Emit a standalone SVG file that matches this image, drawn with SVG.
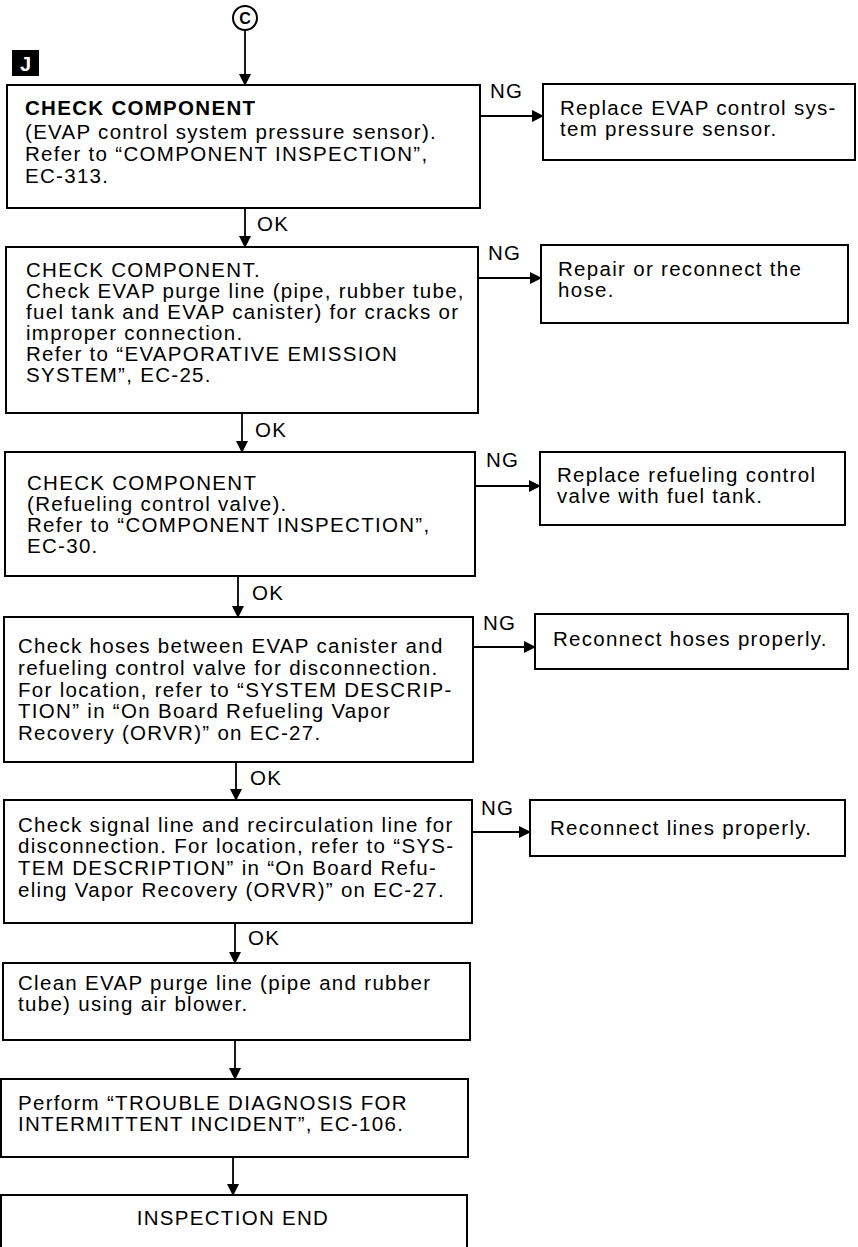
<svg xmlns="http://www.w3.org/2000/svg" width="858" height="1247" viewBox="0 0 858 1247">
<defs>
<style>
.box{fill:#fff;stroke:#000;stroke-width:2}
.t{font-family:"Liberation Sans",Arial,sans-serif;font-size:20.5px;letter-spacing:1.3px;fill:#000}
.b{font-weight:bold}
.c{stroke:#000;stroke-width:1.8;fill:none}
</style>
<marker id="ah" viewBox="0 0 12 12" refX="11" refY="6" markerWidth="12" markerHeight="12" markerUnits="userSpaceOnUse" orient="auto">
<path d="M0,0 L12,6 L0,12 Z" fill="#000"/>
</marker>
</defs>
<rect width="858" height="1247" fill="#fff"/>

<g id="connector-C">
<circle cx="245" cy="18" r="12" fill="none" stroke="#000" stroke-width="2"/>
<text x="245" y="24" text-anchor="middle" font-family="Liberation Sans,Arial,sans-serif" font-size="16" font-weight="bold">C</text>
</g>
<g id="label-J">
<rect x="12" y="50" width="27" height="26" fill="#000"/>
<text x="25.5" y="71" text-anchor="middle" font-family="Liberation Sans,Arial,sans-serif" font-size="20" font-weight="bold" fill="#fff">J</text>
</g>

<g id="connectors">
<line class="c" x1="245" y1="30" x2="245" y2="85" marker-end="url(#ah)"/>
<line class="c" x1="245" y1="208" x2="245" y2="247" marker-end="url(#ah)"/>
<line class="c" x1="242" y1="413" x2="242" y2="452" marker-end="url(#ah)"/>
<line class="c" x1="238" y1="576" x2="238" y2="617" marker-end="url(#ah)"/>
<line class="c" x1="236" y1="762" x2="236" y2="800" marker-end="url(#ah)"/>
<line class="c" x1="235" y1="923" x2="235" y2="963" marker-end="url(#ah)"/>
<line class="c" x1="235" y1="1040" x2="235" y2="1079" marker-end="url(#ah)"/>
<line class="c" x1="233" y1="1157" x2="233" y2="1195" marker-end="url(#ah)"/>
<line class="c" x1="480" y1="116" x2="543" y2="116" marker-end="url(#ah)"/>
<line class="c" x1="478" y1="278" x2="541" y2="278" marker-end="url(#ah)"/>
<line class="c" x1="475" y1="486" x2="540" y2="486" marker-end="url(#ah)"/>
<line class="c" x1="473" y1="647" x2="535" y2="647" marker-end="url(#ah)"/>
<line class="c" x1="472" y1="832" x2="530" y2="832" marker-end="url(#ah)"/>
<text class="t" x="257" y="231">OK</text>
<text class="t" x="255" y="437">OK</text>
<text class="t" x="252" y="600">OK</text>
<text class="t" x="250" y="785">OK</text>
<text class="t" x="248" y="945">OK</text>
<text class="t" x="490" y="98">NG</text>
<text class="t" x="488" y="260">NG</text>
<text class="t" x="486" y="467">NG</text>
<text class="t" x="483" y="630">NG</text>
<text class="t" x="481" y="815">NG</text>
</g>

<g id="box1">
<rect class="box" x="7" y="85" width="473" height="123"/>
<text class="t b" x="25" y="115">CHECK COMPONENT</text>
<text class="t" x="25" y="139">(EVAP control system pressure sensor).</text>
<text class="t" x="25" y="161">Refer to “COMPONENT INSPECTION”,</text>
<text class="t" x="25" y="183">EC-313.</text>
</g>
<g id="box1-ng">
<rect class="box" x="543" y="84" width="312" height="76"/>
<text class="t" x="560" y="115">Replace EVAP control sys-</text>
<text class="t" x="560" y="136">tem pressure sensor.</text>
</g>

<g id="box2">
<rect class="box" x="6" y="247" width="472" height="166"/>
<text class="t" x="26" y="277">CHECK COMPONENT.</text>
<text class="t" x="26" y="298">Check EVAP purge line (pipe, rubber tube,</text>
<text class="t" x="26" y="319">fuel tank and EVAP canister) for cracks or</text>
<text class="t" x="26" y="340">improper connection.</text>
<text class="t" x="26" y="361">Refer to “EVAPORATIVE EMISSION</text>
<text class="t" x="26" y="382">SYSTEM”, EC-25.</text>
</g>
<g id="box2-ng">
<rect class="box" x="541" y="245" width="307" height="78"/>
<text class="t" x="558" y="276">Repair or reconnect the</text>
<text class="t" x="558" y="297">hose.</text>
</g>

<g id="box3">
<rect class="box" x="5" y="452" width="470" height="124"/>
<text class="t" x="27" y="490">CHECK COMPONENT</text>
<text class="t" x="27" y="511">(Refueling control valve).</text>
<text class="t" x="27" y="532">Refer to “COMPONENT INSPECTION”,</text>
<text class="t" x="27" y="553">EC-30.</text>
</g>
<g id="box3-ng">
<rect class="box" x="540" y="452" width="305" height="73"/>
<text class="t" x="557" y="482">Replace refueling control</text>
<text class="t" x="557" y="503">valve with fuel tank.</text>
</g>

<g id="box4">
<rect class="box" x="4" y="617" width="469" height="145"/>
<text class="t" x="18" y="653">Check hoses between EVAP canister and</text>
<text class="t" x="18" y="675">refueling control valve for disconnection.</text>
<text class="t" x="18" y="697">For location, refer to “SYSTEM DESCRIP-</text>
<text class="t" x="18" y="718">TION” in “On Board Refueling Vapor</text>
<text class="t" x="18" y="740">Recovery (ORVR)” on EC-27.</text>
</g>
<g id="box4-ng">
<rect class="box" x="535" y="614" width="313" height="55"/>
<text class="t" x="553" y="646">Reconnect hoses properly.</text>
</g>

<g id="box5">
<rect class="box" x="4" y="800" width="468" height="123"/>
<text class="t" x="18" y="832">Check signal line and recirculation line for</text>
<text class="t" x="18" y="853">disconnection. For location, refer to “SYS-</text>
<text class="t" x="18" y="875">TEM DESCRIPTION” in “On Board Refu-</text>
<text class="t" x="18" y="897">eling Vapor Recovery (ORVR)” on EC-27.</text>
</g>
<g id="box5-ng">
<rect class="box" x="530" y="800" width="315" height="56"/>
<text class="t" x="550" y="835">Reconnect lines properly.</text>
</g>

<g id="box6">
<rect class="box" x="3" y="963" width="467" height="77"/>
<text class="t" x="18" y="990">Clean EVAP purge line (pipe and rubber</text>
<text class="t" x="18" y="1011">tube) using air blower.</text>
</g>

<g id="box7">
<rect class="box" x="1" y="1079" width="467" height="78"/>
<text class="t" x="18" y="1110">Perform “TROUBLE DIAGNOSIS FOR</text>
<text class="t" x="18" y="1131">INTERMITTENT INCIDENT”, EC-106.</text>
</g>

<g id="box8">
<rect class="box" x="1" y="1195" width="466" height="70"/>
<text class="t" x="233" y="1225" text-anchor="middle">INSPECTION END</text>
</g>
</svg>
